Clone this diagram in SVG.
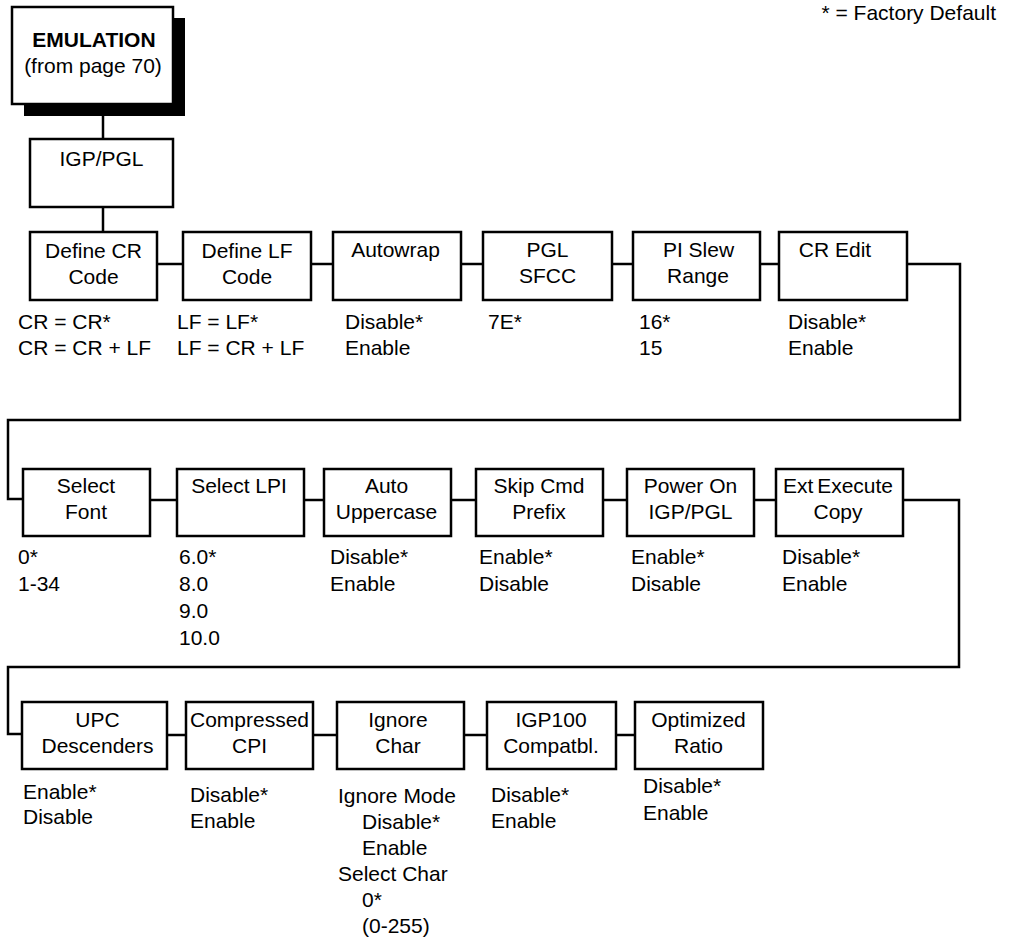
<svg xmlns="http://www.w3.org/2000/svg" width="1011" height="941" viewBox="0 0 1011 941">
<style>
  text { font-family: "Liberation Sans", Arial, sans-serif; font-size: 21px; fill: #000; }
  .t { text-anchor: middle; }
  .b { font-weight: bold; }
  .box { fill: #fff; stroke: #000; stroke-width: 2.5; }
  .conn { fill: none; stroke: #000; stroke-width: 2.5; }
</style>
<rect x="0" y="0" width="1011" height="941" fill="#fff"/>
<text x="996" y="20" style="text-anchor:end">* = Factory Default</text>

<g id="connectors">
  <line class="conn" x1="103" y1="104" x2="103" y2="139"/>
  <line class="conn" x1="103" y1="207" x2="103" y2="232"/>
  <line class="conn" x1="157" y1="264" x2="183" y2="264"/>
  <line class="conn" x1="311" y1="264" x2="333" y2="264"/>
  <line class="conn" x1="461" y1="264" x2="483" y2="264"/>
  <line class="conn" x1="612" y1="264" x2="633" y2="264"/>
  <line class="conn" x1="760" y1="264" x2="779" y2="264"/>
  <polyline class="conn" points="907,264 960,264 960,420 8,420 8,499 23,499"/>
  <line class="conn" x1="150" y1="500" x2="177" y2="500"/>
  <line class="conn" x1="304" y1="500" x2="324" y2="500"/>
  <line class="conn" x1="451" y1="500" x2="476" y2="500"/>
  <line class="conn" x1="603" y1="500" x2="627" y2="500"/>
  <line class="conn" x1="754" y1="500" x2="776" y2="500"/>
  <polyline class="conn" points="903,500 959,500 959,667 8,667 8,734 22,734"/>
  <line class="conn" x1="167" y1="735" x2="186" y2="735"/>
  <line class="conn" x1="313" y1="735" x2="337" y2="735"/>
  <line class="conn" x1="464" y1="735" x2="487" y2="735"/>
  <line class="conn" x1="616" y1="735" x2="635" y2="735"/>
</g>

<g id="emulation">
  <rect x="24" y="18" width="161" height="98" fill="#000"/>
  <rect class="box" x="12" y="7" width="161" height="97"/>
  <text class="t b" x="94" y="47">EMULATION</text>
  <text class="t" x="93" y="73">(from page 70)</text>
</g>
<g id="igppgl">
  <rect class="box" x="30" y="139" width="143" height="68"/>
  <text class="t" x="101.5" y="166">IGP/PGL</text>
</g>

<g id="define-cr">
  <rect class="box" x="30" y="232" width="127" height="68"/>
  <text class="t" x="93.5" y="258">Define CR</text>
  <text class="t" x="93.5" y="284">Code</text>
  <text x="18" y="329">CR = CR*</text>
  <text x="18" y="355">CR = CR + LF</text>
</g>
<g id="define-lf">
  <rect class="box" x="183" y="232" width="128" height="68"/>
  <text class="t" x="247" y="258">Define LF</text>
  <text class="t" x="247" y="284">Code</text>
  <text x="177" y="329">LF = LF*</text>
  <text x="177" y="355">LF = CR + LF</text>
</g>
<g id="autowrap">
  <rect class="box" x="333" y="232" width="128" height="68"/>
  <text class="t" x="395.5" y="257">Autowrap</text>
  <text x="345" y="329">Disable*</text>
  <text x="345" y="355">Enable</text>
</g>
<g id="pgl-sfcc">
  <rect class="box" x="483" y="232" width="129" height="68"/>
  <text class="t" x="547.5" y="257">PGL</text>
  <text class="t" x="547.5" y="283">SFCC</text>
  <text x="488" y="329">7E*</text>
</g>
<g id="pi-slew">
  <rect class="box" x="633" y="232" width="127" height="68"/>
  <text class="t" x="698.5" y="257">PI Slew</text>
  <text class="t" x="698" y="283">Range</text>
  <text x="639" y="329">16*</text>
  <text x="639" y="355">15</text>
</g>
<g id="cr-edit">
  <rect class="box" x="779" y="232" width="128" height="68"/>
  <text class="t" x="835" y="257">CR Edit</text>
  <text x="788" y="329">Disable*</text>
  <text x="788" y="355">Enable</text>
</g>

<g id="select-font">
  <rect class="box" x="23" y="469" width="127" height="67"/>
  <text class="t" x="86" y="493">Select</text>
  <text class="t" x="86" y="519">Font</text>
  <text x="18" y="564">0*</text>
  <text x="18" y="591">1-34</text>
</g>
<g id="select-lpi">
  <rect class="box" x="177" y="469" width="127" height="67"/>
  <text class="t" x="239" y="493">Select LPI</text>
  <text x="179" y="564">6.0*</text>
  <text x="179" y="591">8.0</text>
  <text x="179" y="618">9.0</text>
  <text x="179" y="645">10.0</text>
</g>
<g id="auto-uppercase">
  <rect class="box" x="324" y="469" width="127" height="67"/>
  <text class="t" x="386.5" y="493">Auto</text>
  <text class="t" x="386.5" y="519">Uppercase</text>
  <text x="330" y="564">Disable*</text>
  <text x="330" y="591">Enable</text>
</g>
<g id="skip-cmd">
  <rect class="box" x="476" y="469" width="127" height="67"/>
  <text class="t" x="539" y="493">Skip Cmd</text>
  <text class="t" x="539" y="519">Prefix</text>
  <text x="479" y="564">Enable*</text>
  <text x="479" y="591">Disable</text>
</g>
<g id="power-on">
  <rect class="box" x="627" y="469" width="127" height="67"/>
  <text class="t" x="690.5" y="493">Power On</text>
  <text class="t" x="690.5" y="519">IGP/PGL</text>
  <text x="631" y="564">Enable*</text>
  <text x="631" y="591">Disable</text>
</g>
<g id="ext-execute">
  <rect class="box" x="776" y="469" width="127" height="67"/>
  <text class="t" x="838" y="493" style="word-spacing:-2px">Ext Execute</text>
  <text class="t" x="838" y="519">Copy</text>
  <text x="782" y="564">Disable*</text>
  <text x="782" y="591">Enable</text>
</g>

<g id="upc">
  <rect class="box" x="22" y="702" width="145" height="67"/>
  <text class="t" x="97.5" y="727">UPC</text>
  <text class="t" x="97.5" y="753">Descenders</text>
  <text x="23" y="799">Enable*</text>
  <text x="23" y="824">Disable</text>
</g>
<g id="compressed">
  <rect class="box" x="186" y="702" width="127" height="67"/>
  <text class="t" x="249.5" y="727">Compressed</text>
  <text class="t" x="249.5" y="753">CPI</text>
  <text x="190" y="802">Disable*</text>
  <text x="190" y="828">Enable</text>
</g>
<g id="ignore-char">
  <rect class="box" x="337" y="702" width="127" height="67"/>
  <text class="t" x="398" y="727">Ignore</text>
  <text class="t" x="398" y="753">Char</text>
  <text x="338" y="803">Ignore Mode</text>
  <text x="362" y="829">Disable*</text>
  <text x="362" y="855">Enable</text>
  <text x="338" y="881">Select Char</text>
  <text x="362" y="907">0*</text>
  <text x="362" y="933">(0-255)</text>
</g>
<g id="igp100">
  <rect class="box" x="487" y="702" width="129" height="67"/>
  <text class="t" x="551" y="727">IGP100</text>
  <text class="t" x="551" y="753">Compatbl.</text>
  <text x="491" y="802">Disable*</text>
  <text x="491" y="828">Enable</text>
</g>
<g id="optimized">
  <rect class="box" x="635" y="702" width="128" height="67"/>
  <text class="t" x="698.5" y="727">Optimized</text>
  <text class="t" x="698.5" y="753">Ratio</text>
  <text x="643" y="793">Disable*</text>
  <text x="643" y="820">Enable</text>
</g>
</svg>
